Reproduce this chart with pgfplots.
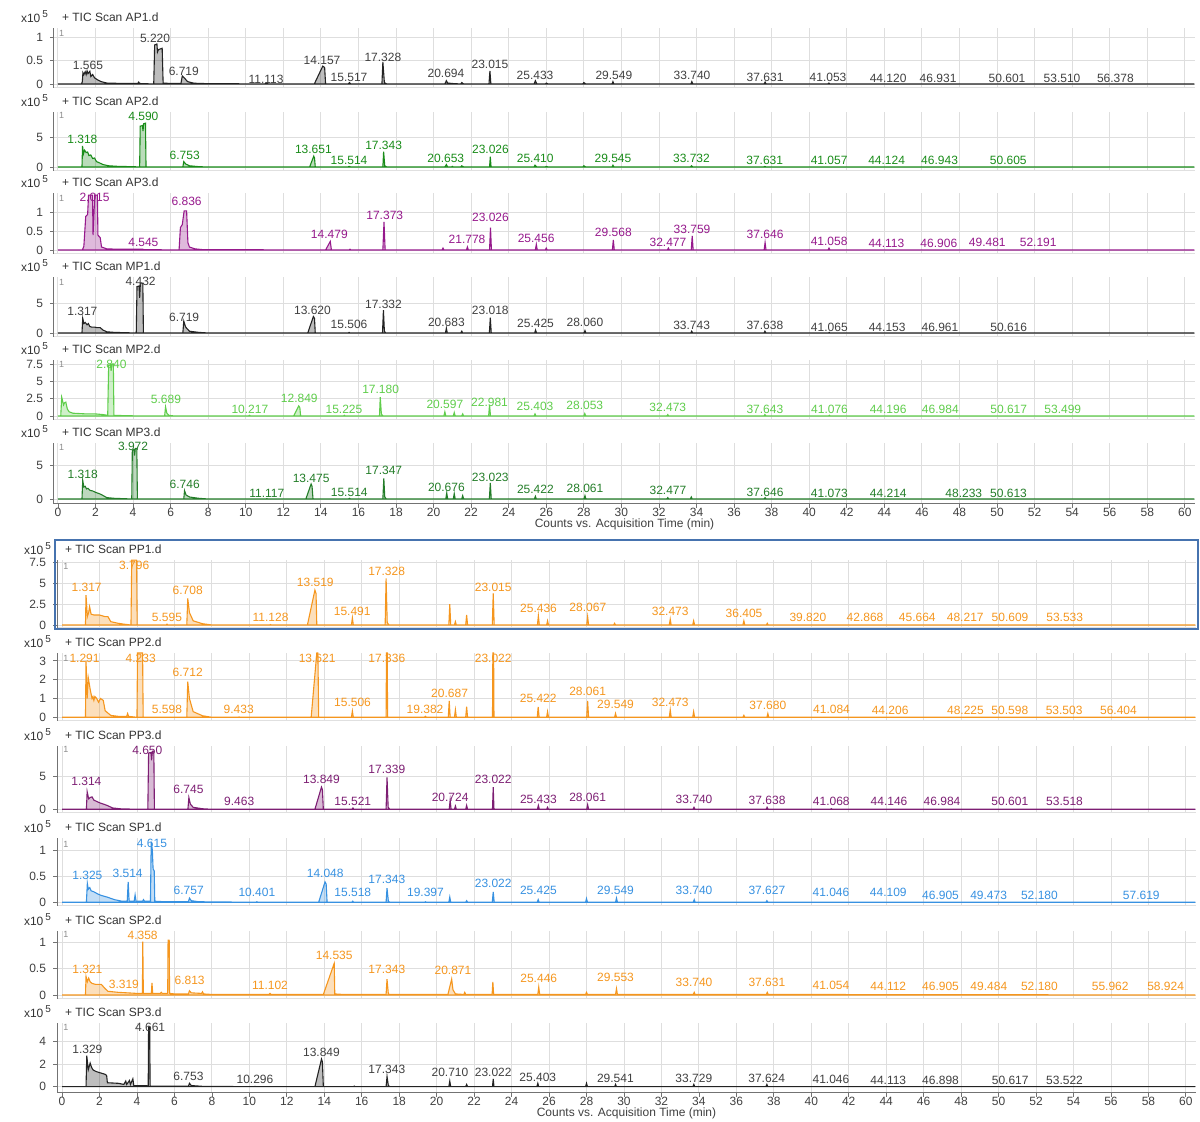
\documentclass[border=0pt]{standalone}
\usepackage{fontspec}
\setmainfont{Liberation Sans}
\usepackage{pgfplots}
\pgfplotsset{compat=1.18}
\definecolor{cblk}{RGB}{35,35,35}
\definecolor{cgrn}{RGB}{25,140,25}
\definecolor{cpur}{RGB}{150,25,140}
\definecolor{clgr}{RGB}{95,205,75}
\definecolor{cdgr}{RGB}{35,125,40}
\definecolor{corg}{RGB}{245,150,30}
\definecolor{cpp}{RGB}{125,30,115}
\definecolor{cblu}{RGB}{55,145,225}
\definecolor{cfrm}{RGB}{70,115,175}
\newcommand{\sm}{\fontsize{6}{7}\selectfont}
\pgfplotsset{
  panelbase/.style={scale only axis, clip=false, anchor=south west,
    axis x line*=bottom, axis y line*=left, axis line style={-},
    xtick={0,2,...,60}, xmajorgrids, ymajorgrids,
    major grid style={black!13, line width=0.45pt},
    tick label style={font=\sm, text=black!75},
    /pgf/number format/assume math mode=true,
    y axis line style={black!55, line width=0.5pt},
    ytick style={black!55, line width=0.4pt},
    tick align=outside, major tick length=2pt,
    xticklabels={}, xtick style={draw=none},
    x axis line style={black!12, line width=0.5pt}},
  top/.style={panelbase, xmin=-0.21, xmax=60.54, width=570.5pt},
  bot/.style={panelbase, xmin=-0.27, xmax=60.54, width=569.5pt},
  lowest/.style={xticklabels={0,2,...,60}, xtick style={draw=black!55, line width=0.4pt},
    x axis line style={black!55, line width=0.5pt},
    xticklabel style={yshift=3.5pt},
    xlabel={Counts vs. Acquisition Time (min)}, xlabel style={font=\sm, text=black!75, yshift=5.5pt}},
  tr/.style={line width=0.55pt, fill opacity=0.3},
  lab/.style={draw=none, mark=none, nodes near coords, point meta=explicit symbolic,
    nodes near coords style={anchor=center, font=\sm, inner sep=0pt}},
  one/.style={draw=none, mark=none, nodes near coords, point meta=explicit symbolic,
    nodes near coords style={anchor=center, font=\fontsize{4.5}{5}\selectfont, inner sep=0pt, text=black!45}},
}
\newcommand{\ttl}[1]{%
  \node[anchor=west, font=\sm, text=black!80, xshift=0.5pt, yshift=5.5pt] at (rel axis cs:0,1) {+ TIC Scan #1};
  \node[anchor=west, font=\sm, text=black!80, xshift=-20pt, yshift=5.5pt] at (rel axis cs:0,1) {x10\,\textsuperscript{5}};}
\begin{document}
\begin{tikzpicture}
\useasboundingbox (0,0) rectangle (600pt,561pt);
% ---------------- AP1
\begin{axis}[top, at={(27pt,517pt)}, height=30pt, ymin=-0.085, ymax=1.191, ytick={0,0.5,1}]
\addplot[tr, cblk, fill=cblk] coordinates {(0,0)(1.25,0)(1.3,0.05)(1.33,0.24)(1.38,0.2)(1.45,0.26)(1.5,0.2)(1.55,0.28)(1.6,0.22)(1.7,0.27)(1.75,0.16)(1.85,0.2)(1.95,0.13)(2.1,0.09)(2.3,0.05)(2.6,0.02)(3.5,0.01)(4.25,0.01)(4.3,0.04)(4.35,0.01)(5.1,0)(5.15,0.83)(5.27,0.85)(5.3,0.68)(5.35,0.73)(5.55,0.76)(5.6,0.02)(6.0,0.01)(6.55,0.01)(6.62,0.17)(6.75,0.12)(6.9,0.05)(7.2,0.02)(7.5,0.01)(11,0)(11.1,0.02)(11.2,0)(13.65,0)(14.1,0.38)(14.2,0.35)(14.25,0)(15.45,0)(15.52,0.03)(15.6,0)(17.25,0)(17.3,0.47)(17.38,0.03)(17.5,0)(20.6,0)(20.68,0.07)(20.75,0.02)(21.0,0.01)(21.45,0)(21.5,0.03)(21.6,0)(22.95,0)(23.0,0.28)(23.05,0)(25.35,0)(25.42,0.07)(25.5,0)(25.95,0)(26.0,0.02)(26.1,0)(27.95,0)(28.0,0.03)(28.1,0)(29.5,0)(29.55,0.05)(29.6,0)(33.7,0)(33.75,0.05)(33.8,0)(37.6,0)(37.65,0.04)(37.7,0)(41.0,0)(41.05,0.02)(41.1,0)(60.5,0)} \closedcycle;
\addplot[one] table[meta=l] {
x y l
0.2 1.085 1
};
\addplot[lab, black!75] table[meta=l] {
x y l
1.6 0.404 1.565
5.17 0.979 5.220
6.7 0.277 6.719
11.08 0.106 11.113
14.06 0.511 14.157
15.5 0.149 15.517
17.3 0.574 17.328
20.66 0.234 20.694
23.0 0.426 23.015
25.4 0.191 25.433
29.6 0.191 29.549
33.76 0.191 33.740
37.65 0.149 37.631
41.0 0.149 41.053
44.2 0.128 44.120
46.86 0.128 46.931
50.53 0.128 50.601
53.46 0.128 53.510
56.3 0.128 56.378
};
\ttl{AP1.d}
\end{axis}
% ---------------- AP2
\begin{axis}[top, at={(27pt,475.5pt)}, height=29.5pt, ymin=-0.667, ymax=9.167, ytick={0,5}]
\addplot[tr, cgrn, fill=cgrn] coordinates {(0,0)(1.28,0)(1.31,3.5)(1.36,2.2)(1.42,2.8)(1.5,2.4)(1.58,2.5)(1.65,1.9)(1.75,2.0)(1.85,1.4)(1.95,1.5)(2.05,0.9)(2.2,0.7)(2.4,0.4)(2.7,0.2)(3.2,0.1)(4.0,0.05)(4.35,0)(4.38,6.8)(4.5,6.9)(4.53,6.0)(4.56,7.2)(4.66,7.3)(4.69,0)(6.65,0)(6.7,0.9)(6.8,0.5)(7.0,0.2)(7.5,0.05)(8,0)(13.4,0)(13.62,1.8)(13.66,1.5)(13.7,0)(15.45,0)(15.5,0.1)(15.6,0)(17.3,0)(17.34,2.55)(17.4,0.2)(17.5,0)(20.6,0)(20.68,0.4)(20.75,0)(20.95,0)(21.0,0.1)(21.05,0)(21.45,0)(21.5,0.2)(21.6,0)(22.98,0)(23.02,1.7)(23.06,0)(25.35,0)(25.4,0.3)(25.5,0)(25.95,0)(26.0,0.1)(26.1,0)(27.95,0)(28.0,0.2)(28.1,0)(29.5,0)(29.55,0.3)(29.6,0)(33.68,0)(33.73,0.2)(33.8,0)(37.58,0)(37.63,0.1)(37.7,0)(60.5,0)} \closedcycle;
\addplot[one] table[meta=l] {
x y l
0.2 8.67 1
};
\addplot[lab, cgrn] table[meta=l] {
x y l
1.3 4.67 1.318
4.55 8.5 4.590
6.75 2.0 6.753
13.6 3.0 13.651
15.5 1.17 15.514
17.34 3.67 17.343
20.65 1.5 20.653
23.03 3.0 23.026
25.41 1.5 25.410
29.55 1.5 29.545
33.73 1.5 33.732
37.63 1.17 37.631
41.06 1.17 41.057
44.12 1.17 44.124
46.94 1.17 46.943
50.6 1.17 50.605
};
\ttl{AP2.d}
\end{axis}
% ---------------- AP3
\begin{axis}[top, at={(27pt,434pt)}, height=30.5pt, ymin=-0.107, ymax=1.528, ytick={0,0.5,1}]
\addplot[tr, cpur, fill=cpur] coordinates {(0,0)(1.3,0)(1.38,0.1)(1.48,0.9)(1.58,0.95)(1.63,1.47)(1.84,1.47)(1.87,0.4)(1.96,1.47)(2.1,1.47)(2.13,0.4)(2.25,0.33)(2.32,0.08)(2.6,0.03)(3.2,0.02)(4.5,0.02)(4.6,0.01)(6.45,0)(6.52,0.6)(6.62,0.68)(6.72,1.05)(6.85,1.05)(6.92,0.2)(7.0,0.08)(7.3,0.03)(7.7,0.01)(14.25,0)(14.5,0.23)(14.56,0)(15.5,0)(15.55,0.02)(15.6,0)(17.3,0)(17.36,0.75)(17.42,0)(20.45,0)(20.5,0.05)(20.55,0)(21.75,0)(21.8,0.08)(21.85,0)(22.98,0)(23.03,0.6)(23.08,0)(25.42,0)(25.47,0.15)(25.52,0)(25.95,0)(26.0,0.05)(26.05,0)(29.52,0)(29.57,0.27)(29.62,0)(32.45,0)(32.5,0.05)(32.55,0)(33.72,0)(33.77,0.38)(33.82,0)(37.6,0)(37.65,0.2)(37.7,0)(41.0,0)(41.05,0.05)(41.1,0)(60.5,0)} \closedcycle;
\addplot[one] table[meta=l] {
x y l
0.2 1.39 1
};
\addplot[lab, cpur] table[meta=l] {
x y l
1.95 1.42 2.015
4.55 0.21 4.545
6.85 1.29 6.836
14.45 0.43 14.479
17.4 0.94 17.373
21.78 0.29 21.778
23.03 0.88 23.026
25.46 0.32 25.456
29.57 0.46 29.568
32.48 0.21 32.477
33.76 0.54 33.759
37.65 0.43 37.646
41.06 0.24 41.058
44.11 0.19 44.113
46.9 0.19 46.906
49.48 0.21 49.481
52.19 0.21 52.191
};
\ttl{AP3.d}
\end{axis}
% ---------------- MP1
\begin{axis}[top, at={(27pt,392.5pt)}, height=30pt, ymin=-0.681, ymax=9.54, ytick={0,5}]
\addplot[tr, cblk, fill=cblk] coordinates {(0,0)(1.28,0)(1.32,2.5)(1.38,1.6)(1.45,1.8)(1.55,1.4)(1.62,1.6)(1.7,1.1)(1.8,1.0)(1.95,1.0)(2.1,0.9)(2.25,0.9)(2.4,0.5)(2.6,0.2)(3.0,0.1)(4.17,0)(4.21,7.9)(4.32,8.0)(4.35,6.0)(4.39,8.5)(4.52,8.5)(4.55,0)(6.65,0)(6.7,2.0)(6.8,1.0)(7.0,0.3)(7.5,0.1)(8,0)(13.3,0)(13.6,2.8)(13.66,2.5)(13.7,0)(15.45,0)(15.5,0.1)(15.55,0)(17.28,0)(17.33,3.9)(17.38,0.3)(17.45,0)(20.63,0)(20.68,0.8)(20.73,0)(21.45,0)(21.5,0.3)(21.55,0)(22.97,0)(23.02,2.6)(23.07,0)(25.38,0)(25.43,0.5)(25.48,0)(28.01,0)(28.06,0.4)(28.11,0)(33.7,0)(33.74,0.3)(33.8,0)(37.6,0)(37.64,0.3)(37.7,0)(41.03,0)(41.07,0.1)(41.1,0)(60.5,0)} \closedcycle;
\addplot[one] table[meta=l] {
x y l
0.2 8.7 1
};
\addplot[lab, black!75] table[meta=l] {
x y l
1.3 3.75 1.317
4.4 8.86 4.432
6.72 2.73 6.719
13.55 3.92 13.620
15.5 1.53 15.506
17.33 4.94 17.332
20.68 1.87 20.683
23.02 3.92 23.018
25.43 1.7 25.425
28.06 1.87 28.060
33.74 1.36 33.743
37.64 1.36 37.638
41.07 1.02 41.065
44.15 1.02 44.153
46.96 1.02 46.961
50.62 1.02 50.616
};
\ttl{MP1.d}
\end{axis}
% ---------------- MP2
\begin{axis}[top, at={(27pt,351pt)}, height=30pt, ymin=-0.577, ymax=8.08, ytick={0,2.5,5,7.5}]
\addplot[tr, clgr, fill=clgr] coordinates {(0,0)(0.15,0)(0.2,2.7)(0.3,1.6)(0.35,1.9)(0.42,2.0)(0.5,1.0)(0.6,0.6)(0.8,0.4)(1.5,0.3)(2.0,0.3)(2.4,0.2)(2.65,0.1)(2.7,7.3)(2.8,7.4)(2.83,6.5)(2.87,7.5)(2.95,7.5)(2.98,0.1)(3.5,0.05)(4.5,0)(5.68,0)(5.73,1.3)(5.8,0.4)(5.9,0.1)(6.2,0)(10.15,0)(10.2,0.1)(10.25,0)(12.55,0)(12.82,1.45)(12.88,1.2)(12.92,0)(15.2,0)(15.25,0.1)(15.3,0)(17.12,0)(17.16,2.7)(17.22,0.3)(17.3,0)(20.55,0)(20.6,0.6)(20.65,0)(21.05,0)(21.1,0.5)(21.15,0)(21.5,0)(21.55,0.3)(21.6,0)(22.93,0)(22.98,1.6)(23.03,0)(25.35,0)(25.4,0.3)(25.45,0)(28.0,0)(28.05,0.35)(28.1,0)(32.42,0)(32.47,0.2)(32.52,0)(37.6,0)(37.64,0.2)(37.7,0)(41.03,0)(41.07,0.1)(41.12,0)(60.5,0)} \closedcycle;
\addplot[one] table[meta=l] {
x y l
0.2 7.5 1
};
\addplot[lab, clgr] table[meta=l] {
x y l
2.85 7.5 2.840
5.75 2.45 5.689
10.22 1.01 10.217
12.85 2.6 12.849
15.23 1.01 15.225
17.18 3.9 17.180
20.6 1.73 20.597
22.98 2.02 22.981
25.4 1.44 25.403
28.05 1.59 28.053
32.47 1.3 32.473
37.64 1.01 37.643
41.08 1.01 41.076
44.2 1.01 44.196
46.98 1.01 46.984
50.62 1.01 50.617
53.5 1.01 53.499
};
\ttl{MP2.d}
\end{axis}
% ---------------- MP3
\begin{axis}[top, lowest, at={(27pt,309pt)}, height=30.5pt, ymin=-0.75, ymax=8.40, ytick={0,5}]
\addplot[tr, cdgr, fill=cdgr] coordinates {(0,0)(1.28,0)(1.32,2.8)(1.38,1.8)(1.45,1.9)(1.52,1.5)(1.6,1.6)(1.7,1.3)(1.85,1.2)(2.0,1.0)(2.2,0.8)(2.35,0.6)(2.6,0.2)(3.0,0.1)(3.93,0)(3.96,7.3)(4.05,7.4)(4.08,6.5)(4.12,7.6)(4.2,7.6)(4.23,0)(6.7,0)(6.74,1.25)(6.82,0.6)(7.0,0.3)(7.5,0.1)(8,0)(11.07,0)(11.12,0.05)(11.17,0)(13.2,0)(13.48,2.25)(13.53,1.9)(13.58,0)(15.47,0)(15.52,0.1)(15.57,0)(17.3,0)(17.35,3.1)(17.4,0.3)(17.48,0)(20.65,0)(20.7,0.9)(20.75,0)(21.05,0)(21.1,0.8)(21.15,0)(21.5,0)(21.55,0.5)(21.6,0)(22.97,0)(23.02,2.4)(23.07,0)(25.37,0)(25.42,0.4)(25.47,0)(28.01,0)(28.06,0.5)(28.11,0)(32.42,0)(32.47,0.2)(32.52,0)(33.67,0)(33.72,0.3)(33.77,0)(37.6,0)(37.65,0.2)(37.7,0)(60.5,0)} \closedcycle;
\addplot[one] table[meta=l] {
x y l
0.2 7.8 1
};
\addplot[lab, cdgr] table[meta=l] {
x y l
1.32 3.75 1.318
4.0 7.95 3.972
6.75 2.25 6.746
11.12 0.9 11.117
13.48 3.15 13.475
15.51 1.05 15.514
17.35 4.35 17.347
20.68 1.8 20.676
23.02 3.3 23.023
25.42 1.5 25.422
28.06 1.65 28.061
32.48 1.35 32.477
37.65 1.05 37.646
41.07 0.9 41.073
44.21 0.9 44.214
48.23 0.9 48.233
50.61 0.9 50.613
};
\ttl{MP3.d}
\end{axis}
% ---------------- PP1
\begin{axis}[bot, at={(28.5pt,247pt)}, height=34pt, ymin=-0.361, ymax=7.82, ytick={0,2.5,5,7.5}]
\addplot[tr, corg, fill=corg] coordinates {(0,0)(1.25,0)(1.28,3.6)(1.35,1.0)(1.42,1.5)(1.47,2.2)(1.55,1.3)(1.7,1.2)(2.0,1.2)(2.3,1.0)(2.45,1.0)(2.6,0.4)(3.0,0.2)(3.3,0.1)(3.68,0)(3.72,7.8)(3.98,7.8)(4.01,0)(5.55,0)(5.6,0.1)(5.65,0)(6.66,0)(6.71,3.2)(6.8,1.5)(7.0,0.5)(7.5,0.15)(8,0)(11.08,0)(11.13,0.05)(11.18,0)(13.1,0)(13.5,4.2)(13.56,3.8)(13.6,0)(15.45,0)(15.5,0.85)(15.55,0)(17.25,0)(17.3,5.6)(17.36,0.3)(17.45,0)(20.65,0)(20.7,2.5)(20.75,0)(20.95,0)(21.0,0.4)(21.05,0)(21.55,0)(21.6,1.2)(21.65,0)(22.97,0)(23.02,3.8)(23.07,0)(25.38,0)(25.43,1.1)(25.48,0)(25.87,0)(25.92,0.5)(25.97,0)(28.01,0)(28.06,1.0)(28.11,0)(29.45,0)(29.5,0.2)(29.55,0)(32.42,0)(32.47,0.7)(32.52,0)(33.67,0)(33.72,0.5)(33.77,0)(36.35,0)(36.4,0.5)(36.45,0)(37.6,0)(37.65,0.2)(37.7,0)(60.5,0)} \closedcycle;
\addplot[one] table[meta=l] {
x y l
0.2 7.0 1
};
\addplot[lab, corg] table[meta=l] {
x y l
1.31 4.57 1.317
3.85 7.22 3.796
5.6 0.96 5.595
6.71 4.21 6.708
11.13 0.96 11.128
13.52 5.17 13.519
15.49 1.68 15.491
17.33 6.5 17.328
23.02 4.57 23.015
25.44 2.05 25.436
28.07 2.17 28.067
32.47 1.68 32.473
36.41 1.44 36.405
39.82 0.96 39.820
42.87 0.96 42.868
45.66 0.96 45.664
48.22 0.96 48.217
50.61 0.96 50.609
53.53 0.96 53.533
};
\ttl{PP1.d}
\end{axis}
% ---------------- PP2
\begin{axis}[bot, at={(28.5pt,200.5pt)}, height=34pt, ymin=-0.197, ymax=3.42, ytick={0,1,2,3}]
\addplot[tr, corg, fill=corg] coordinates {(0,0)(1.25,0)(1.28,3.0)(1.34,1.0)(1.4,2.1)(1.5,1.5)(1.6,1.0)(1.65,1.1)(1.7,0.9)(1.75,1.1)(1.85,1.0)(1.95,0.8)(2.05,1.0)(2.2,0.9)(2.3,0.35)(2.6,0.1)(3.0,0.05)(3.45,0.05)(3.5,0.2)(3.55,0.05)(4.0,0)(4.03,3.42)(4.3,3.42)(4.33,0)(6.66,0)(6.71,1.9)(6.8,1.0)(7.0,0.3)(7.5,0.08)(8,0)(9.4,0)(9.45,0.02)(9.5,0)(13.3,0)(13.6,3.42)(13.66,3.42)(13.7,0)(15.45,0)(15.5,0.33)(15.55,0)(17.3,0)(17.32,3.42)(17.36,3.42)(17.38,0)(19.35,0)(19.4,0.05)(19.45,0)(20.62,0)(20.67,0.87)(20.72,0)(20.95,0)(21.0,0.4)(21.05,0)(21.55,0)(21.6,0.56)(21.65,0)(22.98,0)(23.0,3.42)(23.04,3.42)(23.06,0)(25.37,0)(25.42,0.55)(25.47,0)(25.87,0)(25.92,0.3)(25.97,0)(28.01,0)(28.06,0.87)(28.11,0)(29.5,0)(29.55,0.2)(29.6,0)(32.42,0)(32.47,0.4)(32.52,0)(33.67,0)(33.72,0.3)(33.77,0)(36.35,0)(36.4,0.1)(36.45,0)(37.63,0)(37.68,0.2)(37.73,0)(60.5,0)} \closedcycle;
\addplot[one] table[meta=l] {
x y l
0.2 3.15 1
};
\addplot[lab, corg] table[meta=l] {
x y l
1.2 3.15 1.291
4.2 3.15 4.233
5.6 0.44 5.598
6.71 2.41 6.712
9.43 0.44 9.433
13.62 3.15 13.621
15.51 0.81 15.506
17.34 3.15 17.336
19.38 0.44 19.382
20.69 1.29 20.687
23.02 3.15 23.022
25.42 1.03 25.422
28.06 1.4 28.061
29.55 0.71 29.549
32.47 0.81 32.473
37.68 0.65 37.680
41.08 0.44 41.084
44.21 0.39 44.206
48.23 0.39 48.225
50.6 0.39 50.598
53.5 0.39 53.503
56.4 0.39 56.404
};
\ttl{PP2.d}
\end{axis}
% ---------------- PP3
\begin{axis}[bot, at={(28.5pt,154.5pt)}, height=33.5pt, ymin=-0.567, ymax=9.69, ytick={0,5}]
\addplot[tr, cpp, fill=cpp] coordinates {(0,0)(1.3,0)(1.34,2.7)(1.42,1.6)(1.5,1.8)(1.6,1.9)(1.7,1.4)(1.85,1.2)(2.0,1.0)(2.2,0.8)(2.4,0.6)(2.7,0.2)(3.2,0.05)(4.58,0)(4.62,8.6)(4.75,8.7)(4.78,7.5)(4.82,8.9)(4.9,8.9)(4.93,0)(6.72,0)(6.77,1.8)(6.85,0.8)(7.0,0.3)(7.5,0.08)(8,0)(9.4,0)(9.45,0.03)(9.5,0)(13.5,0)(13.85,3.4)(13.9,3.0)(13.95,0)(15.48,0)(15.53,0.2)(15.58,0)(17.3,0)(17.35,4.9)(17.41,0.3)(17.5,0)(20.67,0)(20.72,1.4)(20.77,0)(20.95,0)(21.0,0.5)(21.05,0)(21.55,0)(21.6,0.6)(21.65,0)(22.98,0)(23.02,3.4)(23.06,0)(25.38,0)(25.43,0.6)(25.48,0)(25.87,0)(25.92,0.3)(25.97,0)(28.01,0)(28.06,0.7)(28.11,0)(33.69,0)(33.74,0.3)(33.79,0)(37.59,0)(37.64,0.3)(37.69,0)(41.02,0)(41.07,0.1)(41.12,0)(60.5,0)} \closedcycle;
\addplot[one] table[meta=l] {
x y l
0.2 9.1 1
};
\addplot[lab, cpp] table[meta=l] {
x y l
1.3 4.33 1.314
4.55 9.08 4.650
6.75 3.11 6.745
9.46 1.27 9.463
13.85 4.64 13.849
15.52 1.27 15.521
17.34 6.17 17.339
20.72 1.89 20.724
23.02 4.64 23.022
25.43 1.58 25.433
28.06 1.89 28.061
33.74 1.58 33.740
37.64 1.42 37.638
41.07 1.27 41.068
44.15 1.27 44.146
46.98 1.27 46.984
50.6 1.27 50.601
53.52 1.27 53.518
};
\ttl{PP3.d}
\end{axis}
% ---------------- SP1
\begin{axis}[bot, at={(28.5pt,108pt)}, height=34pt, ymin=-0.071, ymax=1.229, ytick={0,0.5,1}]
\addplot[tr, cblu, fill=cblu] coordinates {(0,0)(1.3,0)(1.35,0.36)(1.4,0.25)(1.48,0.28)(1.55,0.22)(1.7,0.2)(1.9,0.16)(2.1,0.13)(2.4,0.1)(2.8,0.05)(3.2,0.02)(3.48,0.02)(3.53,0.39)(3.58,0.02)(3.85,0.02)(3.9,0.14)(3.95,0.02)(4.3,0.02)(4.35,0.05)(4.4,0.02)(4.72,0.02)(4.76,1.16)(4.82,1.0)(4.86,0.64)(4.92,0.6)(4.95,0.02)(5.5,0.01)(6.75,0.01)(6.8,0.08)(6.9,0.03)(7.3,0.01)(10.35,0)(10.4,0.01)(10.45,0)(13.7,0)(14.04,0.39)(14.1,0.35)(14.15,0)(15.47,0)(15.52,0.02)(15.57,0)(17.3,0)(17.35,0.27)(17.42,0.02)(17.5,0)(19.35,0)(19.4,0.01)(19.45,0)(20.65,0)(20.7,0.1)(20.75,0)(21.55,0)(21.6,0.03)(21.65,0)(22.97,0)(23.02,0.2)(23.07,0)(25.37,0)(25.42,0.05)(25.47,0)(27.95,0)(28.0,0.07)(28.05,0)(29.55,0)(29.6,0.08)(29.65,0)(33.7,0)(33.75,0.05)(33.8,0)(37.58,0)(37.63,0.03)(37.68,0)(60.5,0)} \closedcycle;
\addplot[one] table[meta=l] {
x y l
0.2 1.1 1
};
\addplot[lab, cblu] table[meta=l] {
x y l
1.35 0.52 1.325
3.5 0.56 3.514
4.8 1.13 4.615
6.76 0.235 6.757
10.4 0.18 10.401
14.05 0.56 14.048
15.52 0.18 15.518
17.34 0.43 17.343
19.4 0.18 19.397
23.02 0.37 23.022
25.43 0.235 25.425
29.55 0.235 29.549
33.74 0.22 33.740
37.63 0.22 37.627
41.05 0.18 41.046
44.11 0.18 44.109
46.9 0.14 46.905
49.47 0.14 49.473
52.18 0.14 52.180
57.62 0.14 57.619
};
\ttl{SP1.d}
\end{axis}
% ---------------- SP2
\begin{axis}[bot, at={(28.5pt,61.5pt)}, height=34pt, ymin=-0.076, ymax=1.214, ytick={0,0.5,1}]
\addplot[tr, corg, fill=corg] coordinates {(0,0)(1.25,0)(1.28,0.35)(1.35,0.25)(1.42,0.32)(1.5,0.25)(1.6,0.22)(1.8,0.2)(2.1,0.2)(2.3,0.12)(2.45,0.07)(3.0,0.05)(3.5,0.04)(4.0,0.03)(4.29,0.03)(4.31,1.01)(4.34,0.03)(4.5,0.03)(4.77,0.03)(4.8,0.23)(4.84,0.03)(5.25,0.03)(5.3,0.05)(5.35,0.03)(5.64,0.03)(5.66,1.04)(5.72,1.04)(5.74,0.03)(6.0,0.02)(6.75,0.02)(6.8,0.08)(6.9,0.04)(7.45,0.03)(7.5,0.06)(7.55,0.02)(8,0.01)(11.05,0.01)(11.1,0.03)(11.15,0.01)(13.95,0.01)(14.53,0.6)(14.56,0.02)(15,0.01)(17.3,0.01)(17.35,0.3)(17.42,0.02)(17.5,0.01)(20.6,0.01)(20.8,0.3)(20.87,0.1)(21.0,0.02)(21.45,0.01)(21.5,0.05)(21.55,0.01)(22.96,0.01)(23.0,0.25)(23.04,0.01)(25.4,0.01)(25.45,0.15)(25.5,0.01)(27.95,0.01)(28.0,0.05)(28.05,0.01)(29.55,0.01)(29.6,0.12)(29.65,0.01)(33.7,0.01)(33.75,0.05)(33.8,0.01)(37.6,0.01)(37.65,0.05)(37.7,0.01)(60.5,0)} \closedcycle;
\addplot[one] table[meta=l] {
x y l
0.2 1.14 1
};
\addplot[lab, corg] table[meta=l] {
x y l
1.35 0.49 1.321
3.3 0.21 3.319
4.3 1.14 4.358
6.81 0.27 6.813
11.1 0.19 11.102
14.53 0.76 14.535
17.34 0.49 17.343
20.87 0.46 20.871
25.45 0.32 25.446
29.55 0.34 29.553
33.74 0.23 33.740
37.63 0.23 37.631
41.05 0.19 41.054
44.11 0.17 44.112
46.9 0.17 46.905
49.48 0.17 49.484
52.18 0.17 52.180
55.96 0.17 55.962
58.92 0.17 58.924
};
\ttl{SP2.d}
\end{axis}
% ---------------- SP3
\begin{axis}[bot, lowest, at={(28.5pt,14.5pt)}, height=35pt, ymin=-0.56, ymax=5.66, ytick={0,2,4}]
\addplot[tr, cblk, fill=cblk] coordinates {(0,0)(1.28,0)(1.32,2.75)(1.4,1.5)(1.5,2.1)(1.58,1.7)(1.65,1.5)(1.75,1.4)(1.9,1.3)(2.1,1.2)(2.3,1.1)(2.38,1.0)(2.42,0.35)(3.0,0.3)(3.3,0.2)(3.4,0.5)(3.45,0.2)(3.6,0.55)(3.65,0.2)(3.78,0.7)(3.83,0.1)(4.5,0.1)(4.6,0.05)(4.62,5.3)(4.68,5.3)(4.7,0.05)(5.5,0.05)(6.75,0.05)(6.8,0.3)(6.9,0.1)(7.5,0.03)(10.25,0)(10.3,0.03)(10.35,0)(13.5,0)(13.85,2.45)(13.9,2.2)(13.95,0)(15.55,0)(15.6,0.05)(15.65,0)(17.3,0)(17.35,0.9)(17.42,0.1)(17.5,0)(20.65,0)(20.7,0.5)(20.75,0)(21.55,0)(21.6,0.2)(21.65,0)(22.98,0)(23.02,0.7)(23.06,0)(25.35,0)(25.4,0.3)(25.45,0)(27.95,0)(28.0,0.3)(28.05,0)(29.5,0)(29.55,0.2)(29.6,0)(33.68,0)(33.73,0.2)(33.78,0)(37.58,0)(37.63,0.2)(37.68,0)(60.5,0)} \closedcycle;
\addplot[one] table[meta=l] {
x y l
0.2 5.3 1
};
\addplot[lab, black!75] table[meta=l] {
x y l
1.35 3.35 1.329
4.7 5.3 4.661
6.75 0.95 6.753
10.3 0.68 10.296
13.85 3.08 13.849
17.34 1.58 17.343
20.71 1.31 20.710
23.02 1.31 23.022
25.4 0.86 25.403
29.54 0.77 29.541
33.73 0.77 33.729
37.62 0.77 37.624
41.05 0.68 41.046
44.11 0.6 44.113
46.9 0.6 46.898
50.62 0.6 50.617
53.52 0.6 53.522
};
\ttl{SP3.d}
\end{axis}
\draw[cfrm, line width=0.6pt] (27.5pt,246.5pt) rectangle (599pt,291pt);
\end{tikzpicture}
\end{document}
